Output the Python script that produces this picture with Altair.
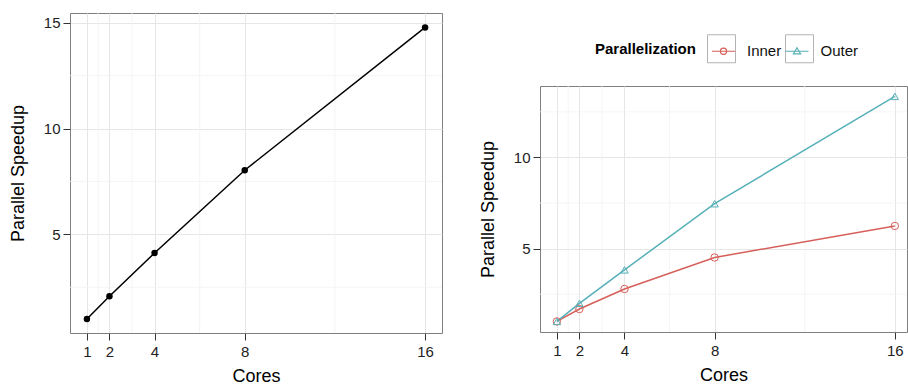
import altair as alt
import pandas as pd

# ---- data ----
cores = [1, 2, 4, 8, 16]
speedup_total = [1.0, 2.08, 4.12, 8.03, 14.78]
series = ["Inner", "Outer"]
speedup_inner = [1.0, 1.68, 2.78, 4.51, 6.24]
speedup_outer = [1.0, 1.99, 3.83, 7.46, 13.35]

x_ticks = [1, 2, 4, 8, 16]
x_minor = [1.5, 3, 6, 12]
y_ticks_left = [5, 10, 15]
y_minor_left = [2.5, 7.5, 12.5]
y_ticks_right = [5, 10]
y_minor_right = [2.5, 7.5, 12.5]

colors = ["#d65f5a", "#56b0b8"]
FONT = "Liberation Sans"
MINOR = "#f3f3f3"

# legend key glyphs (line through open circle / open triangle), unit coords
KEY_CIRCLE = "M-1,0L1,0M0.27,0A0.27,0.27,0,1,1,-0.27,0A0.27,0.27,0,1,1,0.27,0"
KEY_TRIANGLE = "M-1,0L1,0M0,-0.31L0.31,0.22L-0.31,0.22Z"

df_left = pd.DataFrame({"cores": cores, "speedup": speedup_total})
df_right = pd.DataFrame({
    "cores": cores * 2,
    "speedup": speedup_inner + speedup_outer,
    "Parallelization": [series[0]] * 5 + [series[1]] * 5,
})


def panel(df, xdom, ydom, yticks, yminor, w, h, colored):
    xs = alt.Scale(domain=xdom, nice=False, zero=False)
    ys = alt.Scale(domain=ydom, nice=False, zero=False)
    xaxis = alt.Axis(values=x_ticks, title="Cores", format="d")
    yaxis = alt.Axis(values=yticks, title="Parallel Speedup", format="d")
    minx = alt.Chart(pd.DataFrame({"cores": x_minor})).mark_rule(
        color=MINOR, strokeWidth=0.8
    ).encode(x=alt.X("cores:Q", scale=xs, axis=xaxis))
    miny = alt.Chart(pd.DataFrame({"speedup": yminor})).mark_rule(
        color=MINOR, strokeWidth=0.8
    ).encode(y=alt.Y("speedup:Q", scale=ys, axis=yaxis))
    base = alt.Chart(df)
    x = alt.X("cores:Q", scale=xs, axis=xaxis)
    y = alt.Y("speedup:Q", scale=ys, axis=yaxis)
    if not colored:
        line = base.mark_line(color="black", strokeWidth=1.5).encode(x=x, y=y)
        pts = base.mark_circle(color="black", size=42, opacity=1).encode(x=x, y=y)
    else:
        cscale = alt.Scale(domain=series, range=colors)
        line = base.mark_line(strokeWidth=1.5).encode(
            x=x, y=y, color=alt.Color("Parallelization:N", scale=cscale, legend=None)
        )
        pts = base.mark_point(filled=False, size=55, strokeWidth=1, opacity=1).encode(
            x=x, y=y,
            color=alt.Color("Parallelization:N", scale=cscale, legend=None),
            shape=alt.Shape("Parallelization:N",
                            scale=alt.Scale(domain=series, range=["circle", "triangle-up"]),
                            legend=None),
        )
    return alt.layer(minx, miny, line, pts).properties(width=w, height=h)


left = panel(df_left, [0.25, 16.75], [0.34, 15.46], y_ticks_left, y_minor_left,
             372, 320, False)
right_plot = panel(df_right, [0.25, 16.54], [0.42, 13.92], y_ticks_right, y_minor_right,
                   367, 246, True)

# ---- legend (its own small view above the right panel) ----
leg_keys = alt.Legend(
    orient="none", legendX=55, legendY=25.5, direction="horizontal",
    titleOrient="left", title="Parallelization", titleFontWeight="bold",
    titleFontSize=15, labelFontSize=15, titleFont=FONT, labelFont=FONT,
    titleColor="#000", labelColor="#111", symbolStrokeWidth=1.2, symbolSize=529,
    labelOffset=11, columnPadding=0.5, titlePadding=15, padding=0,
    titleBaseline="middle", titleAnchor="middle",
)
leg_boxes = alt.Legend(
    orient="none", legendX=167, legendY=21, direction="horizontal",
    title="", labelFontSize=15, labelFont=FONT, labelColor="transparent",
    symbolType="square", symbolStrokeWidth=1, labelOffset=0, columnPadding=45,
    padding=0, labelExpr="''",
)
legend_src = alt.Chart(df_right).transform_filter("false")
keys_layer = legend_src.mark_point(filled=False, strokeWidth=1.2, opacity=1).encode(
    color=alt.Color("Parallelization:N",
                    scale=alt.Scale(domain=series, range=colors), legend=leg_keys),
    shape=alt.Shape("Parallelization:N",
                    scale=alt.Scale(domain=series, range=[KEY_CIRCLE, KEY_TRIANGLE]),
                    legend=leg_keys),
)
box_layer = legend_src.mark_point(
    filled=False, color="#b3b3b3", strokeWidth=1, opacity=1, shape="square"
).encode(
    size=alt.Size("Parallelization:O",
                  scale=alt.Scale(domain=[s + " " for s in series], range=[784, 784]),
                  legend=leg_boxes),
)
legend_view = alt.layer(box_layer, keys_layer).resolve_scale(
    color="independent", shape="independent", size="independent"
).properties(width=367, height=71, view=alt.ViewBackground(stroke="transparent"))

right = alt.vconcat(legend_view, right_plot, spacing=0).resolve_scale(
    color="independent", shape="independent", size="independent"
).resolve_legend(color="independent", shape="independent", size="independent")

chart = alt.hconcat(left, right, spacing=35).resolve_scale(
    color="independent", shape="independent", size="independent"
).resolve_legend(
    color="independent", shape="independent", size="independent"
).properties(
    padding={"left": 8, "top": 12, "right": 0, "bottom": 0}
).configure_view(
    stroke="#7f7f7f", strokeWidth=1
).configure_axis(
    labelFont=FONT, titleFont=FONT, labelFontSize=15, titleFontSize=18,
    titleFontWeight="normal", labelColor="#222", titleColor="#000",
    tickColor="#333", tickSize=7, domain=False, gridColor="#e6e6e6",
    gridWidth=1, labelPadding=3,
).configure_axisX(titlePadding=8, labelPadding=4).configure_axisY(
    titlePadding=16
)

chart.save("out.html", embed_options={"renderer": "svg", "actions": False})
